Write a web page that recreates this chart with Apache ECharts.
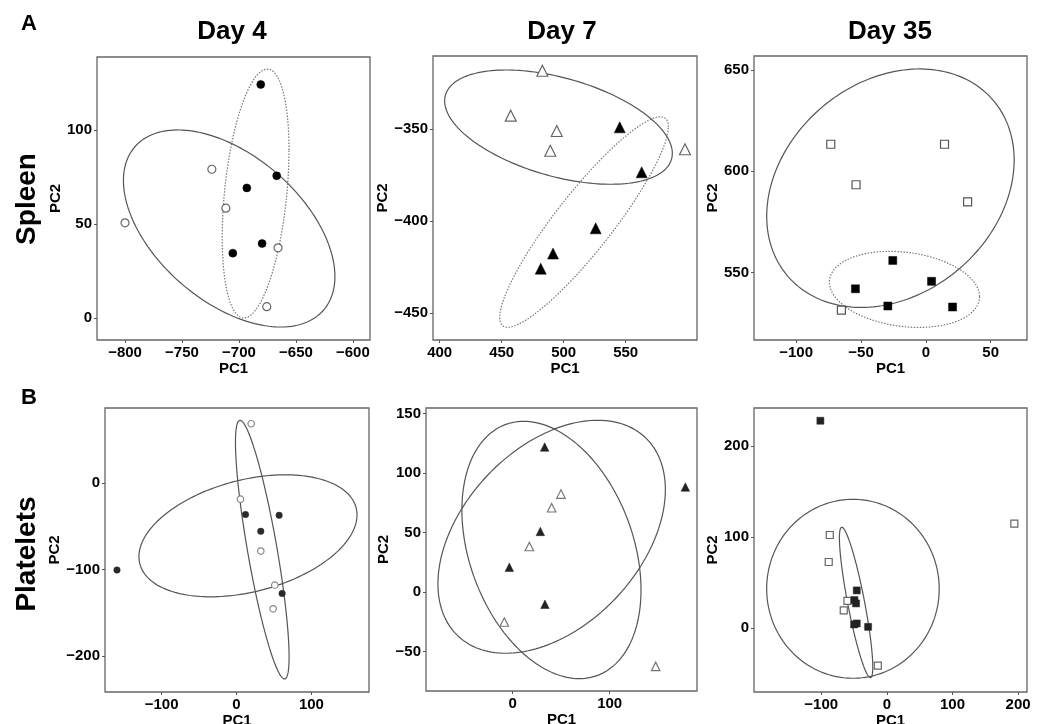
<!DOCTYPE html>
<html>
<head>
<meta charset="utf-8">
<script src="https://cdn.jsdelivr.net/npm/echarts@6/dist/echarts.min.js"></script>
<style>
html,body{margin:0;padding:0;background:#fff;}
#chart{width:1044px;height:724px;}
</style>
</head>
<body>
<div id="chart"></div>
<script>
// ---------- data ----------
// Spleen, Day 4 (circles)
const spleenD4Filled = [[-680.9,124.2],[-666.9,75.6],[-693.1,69.2],[-679.7,39.6],[-705.4,34.5]];
const spleenD4Open   = [[-800.0,50.6],[-723.8,79.1],[-711.5,58.4],[-665.7,37.3],[-675.6,6.0]];
// Spleen, Day 7 (triangles)
const spleenD7Filled = [[545.2,-349.1],[562.9,-373.5],[525.8,-403.9],[491.4,-417.6],[481.5,-425.8]];
const spleenD7Open   = [[482.8,-318.4],[457.3,-342.8],[494.4,-351.1],[489.2,-361.8],[597.8,-361.0]];
// Spleen, Day 35 (squares)
const spleenD35Filled = [[-25.5,555.9],[4.4,545.6],[-54.3,541.9],[-29.3,533.4],[20.6,532.9]];
const spleenD35Open   = [[-73.3,613.3],[14.4,613.3],[-53.8,593.3],[32.2,584.8],[-65.1,531.4]];
// Platelets, Day 4 (circles)
const plateletsD4Filled = [[-159.6,-100.4],[12.0,-36.3],[56.9,-37.1],[32.4,-55.6],[60.9,-127.4]];
const plateletsD4Open   = [[19.6,68.7],[5.3,-18.5],[32.4,-78.4],[51.1,-117.8],[48.9,-145.2]];
// Platelets, Day 7 (triangles)
const plateletsD7Filled = [[33.0,122.0],[178.0,88.4],[28.5,51.1],[-3.4,21.0],[33.3,-10.1]];
const plateletsD7Open   = [[49.8,82.5],[40.2,71.0],[17.2,38.4],[-8.6,-25.0],[147.4,-62.3]];
// Platelets, Day 35 (squares)
const plateletsD35Filled = [[-101.2,227.5],[-45.8,41.1],[-49.3,30.5],[-46.8,26.8],[-45.8,4.8],[-49.8,3.7],[-28.5,1.1]];
const plateletsD35Open   = [[-86.9,102.0],[-88.5,72.3],[194.2,114.5],[-60.0,29.7],[-65.6,19.1],[-13.7,-41.5]];

// ellipses: [centreX, centreY, halfWidth, halfHeight, yOffsetAtRightmostPoint] in data units
const ellSpleenD4Open    = [-708.6, 47.6, 92.8, 52.4, -25.5];
const ellSpleenD4Filled  = [-685.4, 66.2, 29.3, 66.2, 23.2];
const ellSpleenD7Open    = [495.8, -349.0, 91.8, 31.0, -14.2];
const ellSpleenD7Filled  = [516.4, -400.5, 68.0, 57.1, 51.7];
const ellSpleenD35Open   = [-27.3, 591.6, 95.4, 58.9, 13.9];
const ellSpleenD35Filled = [-16.5, 541.6, 57.9, 18.8, -3.6];
const ellPlateletsD4A    = [15.3, -60.8, 145.6, 70.5, 24.1];
const ellPlateletsD4B    = [34.4, -76.8, 35.8, 149.4, -123.9];
const ellPlateletsD7A    = [40.0, 35.5, 92.3, 108.1, -33.5];
const ellPlateletsD7B    = [40.2, 46.6, 117.2, 97.9, 39.6];
const ellPlateletsD35A   = [-51.6, 42.9, 131.4, 98.3, 0];
const ellPlateletsD35B   = [-46.8, 27.9, 25.4, 82.6, -70.8];

// axis ranges and tick labels
const xRange = [[-824.6,-585],[394.6,607.5],[-132.5,78],[-175.6,176.9],[-89.3,190],[-202.3,213.5]];
const yRange = [[-11.7,138.8],[-464.5,-310.4],[516.6,656.9],[-241.3,86.9],[-83,154.8],[-70.5,241.5]];
const xTicks = [[-800,-750,-700,-650,-600],[400,450,500,550],[-100,-50,0,50],[-100,0,100],[0,100],[-100,0,100,200]];
const yTicks = [[0,50,100],[-450,-400,-350],[550,600,650],[-200,-100,0],[-50,0,50,100,150],[0,100,200]];

// ---------- layout ----------
const grids = [
  {left:97,  top:57,  width:273, height:283},
  {left:433, top:56,  width:264, height:284},
  {left:754, top:56,  width:273, height:284},
  {left:105, top:408, width:264, height:284},
  {left:426, top:408, width:271, height:283},
  {left:754, top:408, width:273, height:284}
];
const yNameGap = [34, 40, 32, 42, 33, 32];
const xNameGap = [20, 20, 20, 13, 13, 13];

const panels = [
  {filled: spleenD4Filled, open: spleenD4Open, sym:'circle', size:8, fillCol:'#000', openCol:'#666',
   ells:[[ellSpleenD4Open,'solid'],[ellSpleenD4Filled,'dot']]},
  {filled: spleenD7Filled, open: spleenD7Open, sym:'triangle', size:11, fillCol:'#000', openCol:'#666',
   ells:[[ellSpleenD7Open,'solid'],[ellSpleenD7Filled,'dot']]},
  {filled: spleenD35Filled, open: spleenD35Open, sym:'rect', size:8, fillCol:'#000', openCol:'#555',
   ells:[[ellSpleenD35Open,'solid'],[ellSpleenD35Filled,'dot']]},
  {filled: plateletsD4Filled, open: plateletsD4Open, sym:'circle', size:6.5, fillCol:'#2a2a2a', openCol:'#888',
   ells:[[ellPlateletsD4A,'solid'],[ellPlateletsD4B,'solid']]},
  {filled: plateletsD7Filled, open: plateletsD7Open, sym:'triangle', size:8.5, fillCol:'#222', openCol:'#777',
   ells:[[ellPlateletsD7A,'solid'],[ellPlateletsD7B,'solid']]},
  {filled: plateletsD35Filled, open: plateletsD35Open, sym:'rect', size:7, fillCol:'#222', openCol:'#666',
   ells:[[ellPlateletsD35A,'solid'],[ellPlateletsD35B,'solid']]}
];

const FONT = 'Liberation Sans, Arial, sans-serif';
const fmt = v => String(v).replace('-', '\u2212');

const xAxes = [], yAxes = [], series = [];
panels.forEach((p, i) => {
  const common = {
    gridIndex: i, type: 'value',
    splitLine: {show:false},
    axisLine: {show:false, onZero:false},
    axisTick: {show:true, length:3, lineStyle:{color:'#555', width:1}},
    nameTextStyle: {fontFamily: FONT, fontWeight:'bold', fontSize:15, color:'#000'}
  };
  xAxes.push(Object.assign({}, common, {
    position: 'bottom',
    min: xRange[i][0], max: xRange[i][1],
    name: 'PC1', nameLocation: 'middle', nameGap: xNameGap[i],
    axisTick: Object.assign({}, common.axisTick, {customValues: xTicks[i]}),
    axisLabel: {customValues: xTicks[i], formatter: fmt, margin: 5,
      fontFamily: FONT, fontWeight:'bold', fontSize:15, color:'#000'}
  }));
  yAxes.push(Object.assign({}, common, {
    position: 'left',
    min: yRange[i][0], max: yRange[i][1],
    name: 'PC2', nameLocation: 'middle', nameGap: yNameGap[i],
    axisTick: Object.assign({}, common.axisTick, {customValues: yTicks[i]}),
    axisLabel: {customValues: yTicks[i], formatter: fmt, margin: 5,
      fontFamily: FONT, fontWeight:'bold', fontSize:15, color:'#000'}
  }));
  p.ells.forEach(([e, style]) => {
    series.push({
      type: 'custom', xAxisIndex: i, yAxisIndex: i, silent: true, z: 1,
      data: [[e[0], e[1]]],
      renderItem: function (params, api) {
        const [cx, cy, w, h, dy] = e;
        const k = Math.sqrt(Math.max(h * h - dy * dy, 0));
        const pts = [];
        for (let j = 0; j <= 180; j++) {
          const t = j / 180 * Math.PI * 2;
          pts.push(api.coord([cx + w * Math.cos(t), cy + dy * Math.cos(t) + k * Math.sin(t)]));
        }
        return {type:'polyline', shape:{points: pts},
          style: style === 'dot'
            ? {stroke:'#777', lineWidth:1.2, lineDash:[1.5,1.5], fill:null}
            : {stroke:'#555', lineWidth:1.2, fill:null}};
      }
    });
  });
  series.push({
    type:'scatter', xAxisIndex:i, yAxisIndex:i, z:3, data: p.open,
    symbol: p.sym, symbolSize: p.size,
    itemStyle: {color:'#fff', borderColor: p.openCol, borderWidth:1.2, opacity:1}
  });
  series.push({
    type:'scatter', xAxisIndex:i, yAxisIndex:i, z:4, data: p.filled,
    symbol: p.sym, symbolSize: p.size,
    itemStyle: {color: p.fillCol, borderColor: p.fillCol, borderWidth:0.5, opacity:1}
  });
});

const txt = (text, x, y, size, rot) => ({
  type:'text', x, y, rotation: rot || 0,
  style:{text, fill:'#000', font:'bold ' + size + 'px ' + FONT, align:'center', verticalAlign:'middle'}
});

const chart = echarts.init(document.getElementById('chart'), null, {renderer:'canvas'});
chart.setOption({
  animation: false,
  backgroundColor: '#fff',
  grid: grids.map(g => Object.assign({show:true, borderColor:'#666', borderWidth:1.3,
    backgroundColor:'transparent', containLabel:false, outerBoundsMode:'none'}, g)),
  xAxis: xAxes,
  yAxis: yAxes,
  series: series,
  graphic: [
    txt('A', 29, 24, 22),
    txt('B', 29, 398, 22),
    txt('Day 4', 232, 32, 26),
    txt('Day 7', 562, 32, 26),
    txt('Day 35', 890, 32, 26),
    txt('Spleen', 27, 199, 28, Math.PI / 2),
    txt('Platelets', 27, 554, 28, Math.PI / 2)
  ]
});
</script>
</body>
</html>
